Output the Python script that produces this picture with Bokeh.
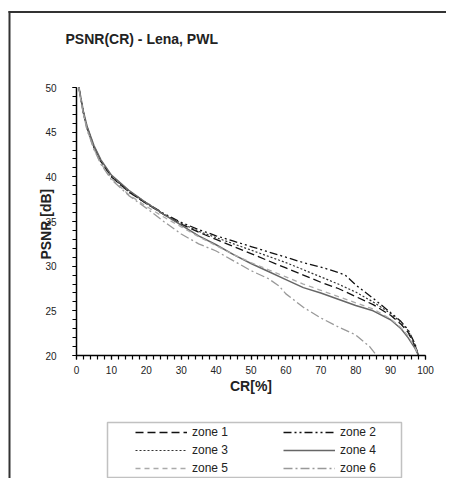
from bokeh.plotting import figure
from bokeh.models import (Range1d, Label, Legend, LegendItem, BoxAnnotation,
                          FixedTicker)
from bokeh.embed import file_html
from bokeh.resources import INLINE
import math

# ---- data ----
cr_common = [0.7, 1, 2, 3, 5, 7, 10, 15, 20, 25, 30, 35, 40, 45, 50, 55, 60,
             65, 70, 75, 80, 85, 90, 93, 95, 97, 98]
cr_zone2 = [0.7, 1, 2, 3, 5, 7, 10, 15, 20, 25, 30, 35, 40, 45, 50, 55, 60,
            65, 70, 75, 77, 80, 85, 90, 93, 95, 97, 98]
cr_zone6 = [0.7, 1, 2, 3, 5, 7, 10, 15, 20, 25, 30, 35, 40, 45, 50, 55, 58,
            60, 65, 70, 75, 80, 84, 86]

psnr_zone1 = [50, 49.2, 47.1, 45.5, 43.3, 41.7, 40.0, 38.3, 37.0, 35.8, 34.7,
              33.8, 33.0, 32.2, 31.4, 30.6, 29.8, 29.0, 28.2, 27.5, 26.6, 25.7,
              24.5, 23.5, 22.6, 21.0, 20.0]
psnr_zone2 = [50, 49.3, 47.2, 45.6, 43.4, 41.8, 40.1, 38.4, 37.1, 35.9, 34.9,
              34.1, 33.4, 32.8, 32.2, 31.6, 31.0, 30.4, 29.9, 29.3, 29.0, 27.9,
              26.4, 24.8, 23.8, 22.9, 21.3, 20.0]
psnr_zone3 = [50, 49.2, 47.1, 45.5, 43.3, 41.7, 40.0, 38.3, 37.0, 35.8, 34.8,
              33.9, 33.2, 32.5, 31.8, 31.1, 30.4, 29.6, 28.8, 28.0, 27.1, 26.0,
              24.7, 23.7, 22.8, 21.2, 20.0]
psnr_zone4 = [50, 49.4, 47.3, 45.7, 43.5, 41.9, 40.2, 38.5, 37.1, 35.8, 34.6,
              33.4, 32.4, 31.3, 30.3, 29.4, 28.5, 27.6, 27.0, 26.3, 25.6, 25.0,
              24.0, 23.0, 22.0, 20.8, 20.0]
psnr_zone5 = [50, 49.1, 47.0, 45.3, 43.1, 41.5, 39.8, 38.0, 36.7, 35.5, 34.4,
              33.3, 32.3, 31.3, 30.4, 29.6, 28.8, 28.0, 27.3, 26.6, 25.9, 25.2,
              24.1, 23.1, 22.2, 20.9, 20.0]
psnr_zone6 = [50, 49.1, 47.0, 45.3, 43.1, 41.4, 39.7, 37.9, 36.5, 35.0, 33.6,
              32.5, 31.7, 30.6, 29.5, 28.6, 27.8, 26.9, 25.4, 24.2, 23.2, 22.3,
              21.0, 20.0]

zone_names = ["zone 1", "zone 2", "zone 3", "zone 4", "zone 5", "zone 6"]
x_ticks = [0, 10, 20, 30, 40, 50, 60, 70, 80, 90, 100]
y_ticks = [20, 25, 30, 35, 40, 45, 50]

title_text = "PSNR(CR) - Lena, PWL"
x_label = "CR[%]"
y_label = "PSNR [dB]"

FONT = "Liberation Sans"

# pixel scale: 3.49 px per CR unit, 8.933 px per dB
SX, SY = 3.49, 8.933
W, H = 446, 478
X0 = -76 / SX
X1 = X0 + W / SX
Y1 = 20 + 355 / SY
Y0 = Y1 - H / SY

p = figure(width=W, height=H, output_backend="svg", toolbar_location=None,
           x_range=Range1d(X0, X1), y_range=Range1d(Y0, Y1),
           min_border_left=0, min_border_right=0, min_border_top=0,
           min_border_bottom=0)
p.outline_line_color = None
p.grid.visible = False
p.background_fill_color = "white"
p.border_fill_color = "white"

for ax in (p.xaxis[0], p.yaxis[0]):
    ax.axis_line_color = "black"
    ax.axis_line_width = 1.5
    ax.major_tick_line_color = "black"
    ax.minor_tick_line_color = "black"
    ax.major_tick_line_width = 1.2
    ax.minor_tick_line_width = 1.2
    ax.major_tick_in = 0
    ax.major_tick_out = 4
    ax.minor_tick_in = 0
    ax.minor_tick_out = 4
    ax.major_label_text_font = FONT
    ax.major_label_text_font_size = "10px"
    ax.major_label_text_color = "#222"

p.xaxis[0].fixed_location = 20
p.xaxis[0].bounds = (0, 100)
p.yaxis[0].fixed_location = 0
p.yaxis[0].bounds = (20, 50)
p.xaxis[0].ticker = FixedTicker(ticks=x_ticks,
                                minor_ticks=[v for v in range(0, 101, 2)])
p.yaxis[0].ticker = FixedTicker(ticks=y_ticks,
                                minor_ticks=[v for v in range(20, 51)])
p.xaxis[0].major_label_standoff = 6
p.yaxis[0].major_label_standoff = 16
p.xaxis[0].axis_label = x_label
p.xaxis[0].axis_label_text_font = FONT
p.xaxis[0].axis_label_text_font_style = "bold"
p.xaxis[0].axis_label_text_font_size = "14px"
p.xaxis[0].axis_label_text_color = "#222"
p.xaxis[0].axis_label_standoff = 1

styles = [
    (cr_common, psnr_zone1, "#111111", "8 4", 1.3),
    (cr_zone2, psnr_zone2, "#111111", "8 3 2 3 2 3", 1.3),
    (cr_common, psnr_zone3, "#333333", "2 2", 1.2),
    (cr_common, psnr_zone4, "#666666", "solid", 1.5),
    (cr_common, psnr_zone5, "#aaaaaa", "5 4", 1.3),
    (cr_zone6, psnr_zone6, "#999999", "9 3 2 3", 1.3),
]
items = []
for name, (xs, ys, col, dash, w) in zip(zone_names, styles):
    r = p.line(xs, ys, line_color=col, line_dash=dash, line_width=w)
    items.append(LegendItem(label=name, renderers=[r]))

legend = Legend(items=items, ncols=2, orientation="horizontal",
                location=(135, 3), padding=0, margin=0,
                glyph_width=52, glyph_height=14, label_standoff=5,
                label_width=87, spacing=4, label_height=14,
                label_text_font=FONT, label_text_font_size="12px",
                label_text_color="#222", border_line_alpha=0,
                background_fill_alpha=0)
p.add_layout(legend, "center")

# legend frame
p.add_layout(BoxAnnotation(left=(107 - 76) / SX, right=(401 - 76) / SX,
                           top=20 - (422 - 355) / SY,
                           bottom=20 - (477 - 355) / SY,
                           fill_alpha=0, line_color="#333", line_width=1.5))

# outer chart-area border: top and left edges only (filled thin strips)
p.add_layout(BoxAnnotation(left=X0 + 8 / SX, right=None,
                           top=Y1 - 10.5 / SY, bottom=Y1 - 12.5 / SY,
                           fill_color="#333", fill_alpha=1, line_alpha=0))
p.add_layout(BoxAnnotation(left=X0 + 8 / SX, right=X0 + 10 / SX,
                           top=Y1 - 10.5 / SY, bottom=None,
                           fill_color="#333", fill_alpha=1, line_alpha=0))

p.add_layout(Label(x=(65 - 76) / SX, y=20 + (355 - 38) / SY, text=title_text,
                   text_font=FONT, text_font_style="bold",
                   text_font_size="14px", text_baseline="middle",
                   text_align="left", text_color="#222"))
p.add_layout(Label(x=(45 - 76) / SX, y=34.7, text=y_label, angle=math.pi / 2,
                   text_font=FONT, text_font_style="bold",
                   text_font_size="14px", text_align="center",
                   text_baseline="middle", text_color="#222"))

open("out.html", "w").write(file_html(p, INLINE))
